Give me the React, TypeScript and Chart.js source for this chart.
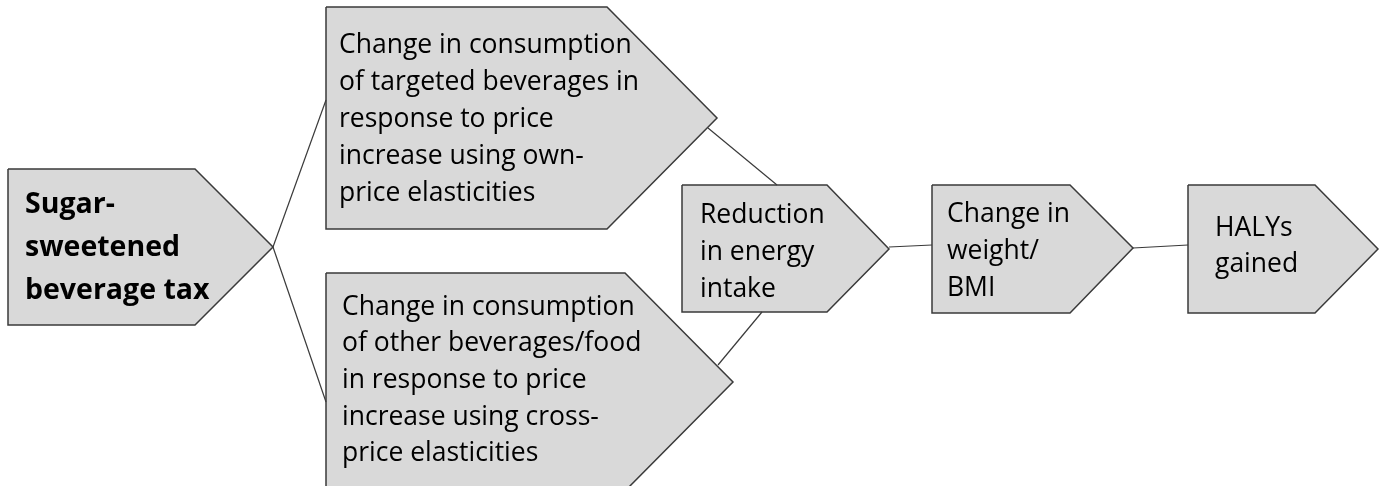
import React, { useEffect, useRef } from "react";
import { Chart, registerables } from "chart.js";

Chart.register(...registerables);

// Node shapes: [left, top, bodyRight, tipX, tipY, bottom]
const nodeNames = ["tax", "own", "cross", "energy", "weight", "haly"];
const nodeLeft = [8, 326, 326, 682, 932, 1188];
const nodeTop = [169, 7, 273, 185, 185, 185];
const nodeBodyRight = [195, 607, 625, 827, 1070, 1315];
const nodeTipX = [273, 717, 733, 889, 1133, 1378];
const nodeTipY = [247, 118, 382, 249, 248, 249];
const nodeBottom = [325, 229, 491, 312, 313, 313];

// Text lines for each node
const nodeText: string[][] = [
  ["Sugar-", "sweetened", "beverage tax"],
  ["Change in consumption", "of targeted beverages in", "response to price", "increase using own-", "price elasticities"],
  ["Change in consumption", "of other beverages/food", "in response to price", "increase using cross-", "price elasticities"],
  ["Reduction", "in energy", "intake"],
  ["Change in", "weight/", "BMI"],
  ["HALYs", "gained"],
];
const textX = [25, 339, 342, 700, 947, 1215];
const textFirstY = [205, 45, 307, 215, 214, 228];
const textStep = [43, 37, 36.7, 37, 37, 36];
const textBold = [true, false, false, false, false, false];

// Connector segments: [x1, y1, x2, y2]
const connX1 = [273, 273, 708, 718, 889, 1133];
const connY1 = [247, 247, 128, 365, 247, 248];
const connX2 = [326, 326, 777, 762, 932, 1188];
const connY2 = [100, 402, 185, 312, 245, 245];

const FILL = "#d9d9d9";
const STROKE = "#3a3a3a";

export default function App() {
  const ref = useRef<HTMLCanvasElement | null>(null);
  useEffect(() => {
    if (!ref.current) return;
    const datasets: any[] = [];
    for (let i = 0; i < connX1.length; i++) {
      datasets.push({
        type: "line",
        label: "conn" + i,
        data: [
          { x: connX1[i], y: connY1[i] },
          { x: connX2[i], y: connY2[i] },
        ],
        borderColor: STROKE,
        borderWidth: 1.2,
        pointRadius: 0,
        fill: false,
        showLine: true,
        tension: 0,
      });
    }
    for (let i = 0; i < nodeNames.length; i++) {
      const pts = [
        { x: nodeLeft[i], y: nodeTop[i] },
        { x: nodeBodyRight[i], y: nodeTop[i] },
        { x: nodeTipX[i], y: nodeTipY[i] },
        { x: nodeBodyRight[i], y: nodeBottom[i] },
        { x: nodeLeft[i], y: nodeBottom[i] },
        { x: nodeLeft[i], y: nodeTop[i] },
      ];
      datasets.push({
        type: "line",
        label: nodeNames[i],
        data: pts,
        borderColor: STROKE,
        backgroundColor: FILL,
        borderWidth: 1.5,
        pointRadius: 0,
        fill: "shape",
        showLine: true,
        tension: 0,
      });
    }
    const textPlugin = {
      id: "nodeText",
      afterDatasetsDraw(chart: any) {
        const ctx = chart.ctx;
        const xs = chart.scales.x;
        const ys = chart.scales.y;
        ctx.save();
        ctx.fillStyle = "#000";
        ctx.textBaseline = "middle";
        ctx.textAlign = "left";
        for (let i = 0; i < nodeText.length; i++) {
          ctx.font = textBold[i]
            ? "bold 28.5px 'Open Sans'"
            : "26.5px 'Open Sans'";
          nodeText[i].forEach((line, j) => {
            const x = xs.getPixelForValue(textX[i]);
            const y = ys.getPixelForValue(textFirstY[i] + j * textStep[i]);
            ctx.fillText(line, x, y);
          });
        }
        ctx.restore();
      },
    };
    const chart = new Chart(ref.current, {
      type: "scatter",
      data: { datasets },
      options: {
        animation: false,
        responsive: false,
        maintainAspectRatio: false,
        layout: { padding: 0 },
        plugins: { legend: { display: false }, tooltip: { enabled: false } },
        scales: {
          x: { type: "linear", min: 0, max: 1383, display: false },
          y: { type: "linear", min: 0, max: 486, reverse: true, display: false },
        },
        elements: { line: { borderJoinStyle: "miter" } },
      },
      plugins: [textPlugin],
    });
    return () => chart.destroy();
  }, []);
  return (
    <div style={{ position: "fixed", left: 0, top: 0, width: 1383, height: 486, background: "#fff" }}>
      <canvas ref={ref} width={1383} height={486} style={{ display: "block" }} />
    </div>
  );
}
